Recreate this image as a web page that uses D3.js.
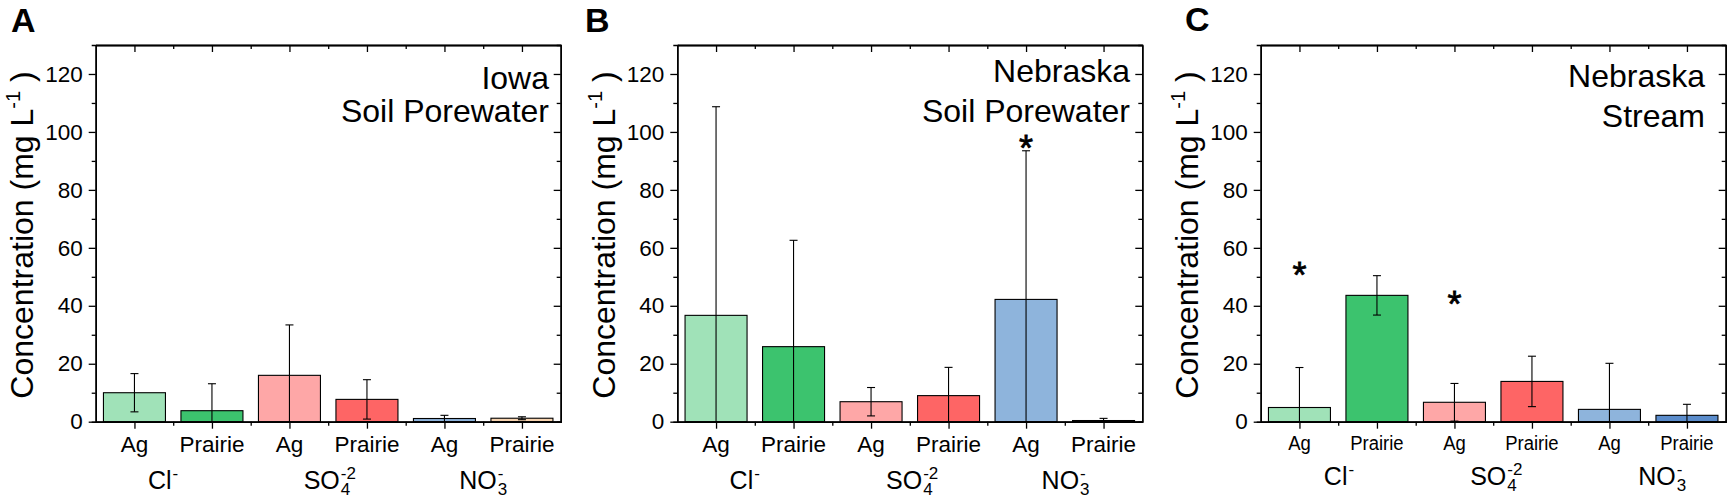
<!DOCTYPE html>
<html>
<head>
<meta charset="utf-8">
<script src="https://d3js.org/d3.v7.min.js"></script>
<style>
  body { margin: 0; background: #fff; }
  text { font-family: "Liberation Sans", Arial, sans-serif; fill: #000; }
</style>
</head>
<body>
<div id="chartContainer"></div>
<script>
// bar categories and ion groups
var categories = ["Ag", "Prairie", "Ag", "Prairie", "Ag", "Prairie"];
var ions = ["Cl", "SO4", "NO3"];
var yTicks = [0, 20, 40, 60, 80, 100, 120];
var yMinor = [10, 30, 50, 70, 90, 110];

// means and error (one sd), mg/L
var iowaMeans = [10.0, 3.8, 16.0, 7.7, 1.1, 1.2];
var iowaErrs  = [6.6, 9.3, 17.4, 6.8, 1.1, 0.5];
var nebSoilMeans = [36.7, 25.9, 6.9, 9.0, 42.2, 0.4];
var nebSoilErrs  = [72.0, 36.7, 4.9, 9.75, 51.3, 0.75];
var nebStreamMeans = [4.9, 43.6, 6.7, 13.9, 4.25, 2.2];
var nebStreamErrs  = [13.8, 6.8, 6.5, 8.7, 15.9, 3.8];

// significance stars: bar index and height (mg/L)
var nebSoilStars = [[4, 97.2]];
var nebStreamStars = [[0, 53.4], [2, 43.3]];

var colorsA = ["#a0e2b8", "#3cc36e", "#fea7a7", "#fe6565", "#8eb4dc", "#f8d4b0"];
var colorsBC = ["#a0e2b8", "#3cc36e", "#fea7a7", "#fe6565", "#8eb4dc", "#5b8ccb"];

var W = 1729, H = 501;
var svg = d3.select("#chartContainer").append("svg").attr("width", W).attr("height", H);

var panels = [
  {letter: "A", lx: 11, ly: 32, left: 95.7, means: iowaMeans, errs: iowaErrs, colors: colorsA, stars: [],
   lines: ["Iowa", "Soil Porewater"], tx: 549, tys: [89, 121.7], ionPos: [1.37, 3.52, 5.5], ionBase: 489, narrow: false},
  {letter: "B", lx: 585, ly: 32, left: 677.3, means: nebSoilMeans, errs: nebSoilErrs, colors: colorsBC, stars: nebSoilStars,
   lines: ["Nebraska", "Soil Porewater"], tx: 1130, tys: [81.7, 121.7], ionPos: [1.37, 3.53, 5.51], ionBase: 489, narrow: false},
  {letter: "C", lx: 1185, ly: 31, left: 1260.7, means: nebStreamMeans, errs: nebStreamErrs, colors: colorsBC, stars: nebStreamStars,
   lines: ["Nebraska", "Stream"], tx: 1705, tys: [87.3, 126.7], ionPos: [1.51, 3.54, 5.68], ionBase: 485, narrow: true}
];

var pw = 465, y0 = 421.7, yTop = 45;
var y = d3.scaleLinear().domain([0, 130]).range([y0, yTop]);

function chem(g, cx, base, main, sup, sub, fs) {
  var t = g.append("text").attr("y", base).style("font-size", fs + "px").text(main);
  var w = t.node().getComputedTextLength();
  var sfs = fs * 0.68;
  var s1 = g.append("text").attr("y", base - fs * 0.42).style("font-size", sfs + "px").text(sup);
  var w1 = s1.node().getComputedTextLength();
  var w2 = 0, s2 = null;
  if (sub) {
    s2 = g.append("text").attr("y", base + fs * 0.24).style("font-size", sfs + "px").text(sub);
    w2 = s2.node().getComputedTextLength();
  }
  var total = w + 1 + Math.max(w1, w2);
  var x0 = cx - total / 2;
  t.attr("x", x0);
  s1.attr("x", x0 + w + 1);
  if (s2) s2.attr("x", x0 + w + 1);
}

panels.forEach(function (p) {
  var g = svg.append("g");
  var right = p.left + pw;
  var x = d3.scaleBand().domain(d3.range(6)).range([p.left, right]).paddingInner(0.2).paddingOuter(0.1);
  var step = x.step();
  var cx = function (i) { return x(i) + x.bandwidth() / 2; };
  var centers = d3.range(6).map(cx);
  var bounds = d3.range(1, 6).map(function (i) { return p.left + i * step; });
  var xl = d3.scaleLinear().domain([0, 6]).range([p.left, right]);

  // panel letter
  g.append("text").attr("x", p.lx).attr("y", p.ly).style("font-size", "34px").style("font-weight", "bold").text(p.letter);

  // bars
  g.selectAll("rect.bar").data(p.means).enter().append("rect")
    .attr("class", "bar")
    .attr("x", function (d, i) { return x(i); })
    .attr("width", x.bandwidth())
    .attr("y", function (d) { return y(d); })
    .attr("height", function (d) { return y0 - y(d); })
    .attr("fill", function (d, i) { return p.colors[i]; })
    .attr("stroke", "#000").attr("stroke-width", 1.1);

  // error bars
  p.means.forEach(function (m, i) {
    var hi = m + p.errs[i], lo = Math.max(0, m - p.errs[i]);
    var c = cx(i);
    g.append("line").attr("x1", c).attr("x2", c).attr("y1", y(hi)).attr("y2", y(lo)).attr("stroke", "#000").attr("stroke-width", 1.1);
    g.append("line").attr("x1", c - 4).attr("x2", c + 4).attr("y1", y(hi)).attr("y2", y(hi)).attr("stroke", "#000").attr("stroke-width", 1.1);
    if (m - p.errs[i] > 0)
      g.append("line").attr("x1", c - 4).attr("x2", c + 4).attr("y1", y(lo)).attr("y2", y(lo)).attr("stroke", "#000").attr("stroke-width", 1.1);
  });

  // stars
  p.stars.forEach(function (s) {
    g.append("text").attr("x", cx(s[0])).attr("y", y(s[1]) + 21)
      .attr("text-anchor", "middle").style("font-size", "36px")
      .attr("stroke", "#000").attr("stroke-width", 0.8).text("*");
  });

  // axes
  var left = g.append("g").attr("transform", "translate(" + p.left + ",0)");
  left.call(d3.axisLeft(y).tickValues(yTicks).tickSize(7).tickSizeOuter(0).tickPadding(6).tickFormat(d3.format("d")));
  left.append("g").call(d3.axisLeft(y).tickValues(yMinor).tickSize(4).tickFormat(""));
  left.selectAll("text").style("font-size", "22.5px").style("font-family", "Liberation Sans, Arial, sans-serif").attr("fill", "#000");

  var rightAx = g.append("g").attr("transform", "translate(" + right + ",0)");
  rightAx.call(d3.axisRight(y).tickValues(yTicks).tickSize(-7).tickSizeOuter(0).tickFormat(""));
  rightAx.append("g").call(d3.axisRight(y).tickValues(yMinor).tickSize(-4).tickFormat(""));

  var top = g.append("g").attr("transform", "translate(0," + yTop + ")");
  top.call(d3.axisTop(xl).tickValues([]).tickSizeOuter(0));
  top.append("g").call(d3.axisTop(xl).tickValues(centers.map(xl.invert)).tickSize(-7).tickSizeOuter(0).tickFormat(""));
  top.append("g").call(d3.axisTop(xl).tickValues(bounds.map(xl.invert)).tickSize(-4).tickSizeOuter(0).tickFormat(""));

  var bot = g.append("g").attr("transform", "translate(0," + y0 + ")");
  bot.call(d3.axisBottom(xl).tickValues([]).tickSizeOuter(0));
  bot.append("g").call(d3.axisBottom(xl).tickValues(centers.map(xl.invert)).tickSize(7).tickSizeOuter(0).tickFormat(""));
  bot.append("g").call(d3.axisBottom(xl).tickValues(bounds.map(xl.invert)).tickSize(4).tickSizeOuter(0).tickFormat(""));

  g.selectAll(".domain").attr("stroke", "#000").attr("stroke-width", 1.5);
  g.selectAll(".tick line").attr("stroke", "#000").attr("stroke-width", 1.3);

  // category labels
  categories.forEach(function (c, i) {
    var t = g.append("text").attr("text-anchor", "middle").text(c);
    if (p.narrow) {
      t.attr("transform", "translate(" + cx(i) + ",450) scale(0.88,1)").style("font-size", "21px");
    } else {
      t.attr("x", cx(i)).attr("y", 451.7).style("font-size", "22.5px");
    }
  });

  // ion labels
  var ionScale = d3.scaleLinear().domain([0.5, 6.5]).range([p.left, right]);
  chem(g, ionScale(p.ionPos[0]), p.ionBase, "Cl", "-", null, 25);
  chem(g, ionScale(p.ionPos[1]), p.ionBase, "SO", "-2", "4", 25);
  chem(g, ionScale(p.ionPos[2]), p.ionBase, "NO", "-", "3", 25);

  // y label
  var yl = g.append("text").attr("text-anchor", "middle")
    .attr("transform", "translate(" + (p.left - 62.4) + ",235) rotate(-90)")
    .style("font-size", "32px");
  yl.append("tspan").text("Concentration (mg L");
  yl.append("tspan").attr("dy", -13).style("font-size", "20px").text("-1");
  yl.append("tspan").attr("dy", 13).text(" )");

  // site label
  p.lines.forEach(function (s, i) {
    g.append("text").attr("x", p.tx).attr("y", p.tys[i]).attr("text-anchor", "end").style("font-size", "32px").text(s);
  });
});
</script>
</body>
</html>
